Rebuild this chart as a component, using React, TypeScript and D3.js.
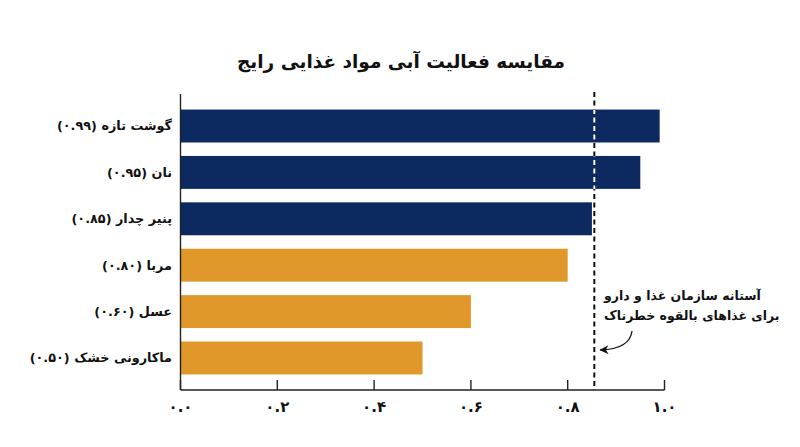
import React from 'react';
import * as d3 from 'd3';

const categories = ['گوشت تازه', 'نان', 'پنیر چدار', 'مربا', 'عسل', 'ماکارونی خشک'];
const waterActivity = [0.99, 0.95, 0.85, 0.8, 0.6, 0.5];
const valueLabels = ['۰.۹۹', '۰.۹۵', '۰.۸۵', '۰.۸۰', '۰.۶۰', '۰.۵۰'];
const groups = ['high', 'high', 'high', 'low', 'low', 'low'];
const tickValues = [0, 0.2, 0.4, 0.6, 0.8, 1.0];
const tickLabels = ['۰.۰', '۰.۲', '۰.۴', '۰.۶', '۰.۸', '۱.۰'];
const threshold = 0.855;
const title = 'مقایسه فعالیت آبی مواد غذایی رایج';
const annotationLines = ['آستانه سازمان غذا و دارو', 'برای غذاهای بالقوه خطرناک'];

const W = 800;
const H = 447;
const FONT = '"DejaVu Sans", sans-serif';
const RLM = '\u200F';

export default function App() {
  const x = d3.scaleLinear().domain([0, 1]).range([180.5, 664.5]);
  const y = d3.scaleBand<string>().domain(categories).range([94, 390]).paddingInner(0.29).paddingOuter(0.335);
  const color = d3.scaleOrdinal<string, string>().domain(['high', 'low']).range(['#0c2a5f', '#e0982b']);
  const axisY = 390;
  const tx = x(threshold);
  const crossing = categories.filter((_, i) => waterActivity[i] > threshold);
  const arrowPath = d3.path();
  arrowPath.moveTo(632, 331);
  arrowPath.quadraticCurveTo(630, 349, tx + 6, 350);

  return (
    <svg width={W} height={H} style={{ position: 'absolute', left: 0, top: 0, background: '#fff' }} fontFamily={FONT}>
      <defs>
        <clipPath id="barclip">
          {crossing.map((c) => {
            const i = categories.indexOf(c);
            return <rect key={c} x={x(0)} y={y(c)} width={x(waterActivity[i]) - x(0)} height={y.bandwidth()} />;
          })}
        </clipPath>
        <marker id="arrowhead" viewBox="0 0 10 10" refX="9" refY="5" markerWidth="7" markerHeight="7" orient="auto">
          <path d="M0,0 L10,5 L0,10 L3,5 Z" fill="#111" />
        </marker>
      </defs>
      <rect width={W} height={H} fill="#fff" />
      <text x={401} y={68} textAnchor="middle" fontSize={18.5} fontWeight="bold" fill="#111">
        {RLM + title + RLM}
      </text>
      {categories.map((c, i) => (
        <rect key={c} x={x(0)} y={y(c)} width={x(waterActivity[i]) - x(0)} height={y.bandwidth()} fill={color(groups[i])} />
      ))}
      {categories.map((c, i) => (
        <text key={c} x={172} y={(y(c) as number) + y.bandwidth() / 2} dy="0.35em" textAnchor="end" fontSize={12.8} fontWeight="bold" fill="#111">
          {RLM + c + ' (' + valueLabels[i] + ')' + RLM}
        </text>
      ))}
      <line x1={tx} x2={tx} y1={92} y2={axisY} stroke="#111" strokeWidth={2} strokeDasharray="5,3.5" />
      <line x1={tx} x2={tx} y1={92} y2={axisY} stroke="#fff" strokeWidth={2} strokeDasharray="5,3.5" clipPath="url(#barclip)" />
      <line x1={x(0)} x2={x(0)} y1={94} y2={axisY} stroke="#222" strokeWidth={1.4} />
      <line x1={x(0)} x2={x(1)} y1={axisY} y2={axisY} stroke="#222" strokeWidth={1.4} />
      {tickValues.map((t, i) => (
        <g key={t}>
          <line x1={x(t)} x2={x(t)} y1={axisY - 10} y2={axisY} stroke="#222" strokeWidth={1.4} />
          <text x={x(t)} y={412} textAnchor="middle" fontSize={15} fontWeight="bold" fill="#111">
            {tickLabels[i]}
          </text>
        </g>
      ))}
      {annotationLines.map((l, i) => (
        <text key={i} x={604} y={300 + i * 20} textAnchor="start" fontSize={12.5} fontWeight="bold" fill="#111">
          {RLM + l + RLM}
        </text>
      ))}
      <path d={arrowPath.toString()} fill="none" stroke="#111" strokeWidth={1.3} markerEnd="url(#arrowhead)" />
    </svg>
  );
}
